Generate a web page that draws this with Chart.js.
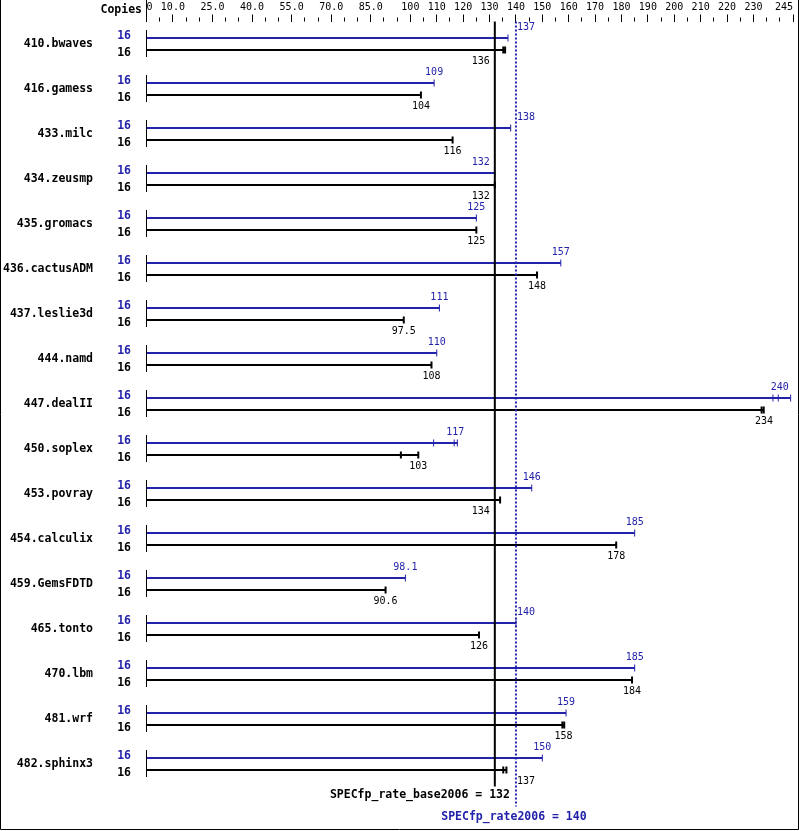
<!DOCTYPE html>
<html lang="en">
<head>
    <meta charset="UTF-8">
    <title>SPECfp_rate2006</title>
    <script src="https://cdn.jsdelivr.net/npm/chart.js"></script>
    <style>
        body { margin: 0; background: #fff; }
        canvas { display: block; }
    </style>
</head>
<body>
    <canvas id="myChart" width="799" height="831"></canvas>

    <script>
        // Benchmarks and copies
        const benchmarks = ['410.bwaves', '416.gamess', '433.milc', '434.zeusmp', '435.gromacs', '436.cactusADM',
            '437.leslie3d', '444.namd', '447.dealII', '450.soplex', '453.povray', '454.calculix',
            '459.GemsFDTD', '465.tonto', '470.lbm', '481.wrf', '482.sphinx3'];
        const peakCopies = [16, 16, 16, 16, 16, 16, 16, 16, 16, 16, 16, 16, 16, 16, 16, 16, 16];
        const baseCopies = [16, 16, 16, 16, 16, 16, 16, 16, 16, 16, 16, 16, 16, 16, 16, 16, 16];

        // Printed ratios
        const peakScores = [137, 109, 138, 132, 125, 157, 111, 110, 240, 117, 146, 185, 98.1, 140, 185, 159, 150];
        const baseScores = [136, 104, 116, 132, 125, 148, 97.5, 108, 234, 103, 134, 178, 90.6, 126, 184, 158, 137];

        // Single runs, as they show up as ticks along the bars
        const peakRuns = [[137], [109], [138], [132], [125], [157], [111], [110], [237.4, 239.4, 244.1],
            [108.8, 116.6, 117.8], [146], [185], [98.1], [140], [185], [159], [150]];
        const baseRuns = [[135.2, 135.9], [104], [116], [132], [125], [148], [97.5], [108], [233.1, 233.9],
            [96.4, 103], [134], [178], [90.6], [126], [184], [157.6, 158.3], [135.2, 136.4]];

        const peakMean = 140;
        const baseMean = 132;

        const tickLabels = [0, 10, 25, 40, 55, 70, 85, 100, 110, 120, 130, 140, 150, 160, 170, 180,
            190, 200, 210, 220, 230, 245];

        const blue = '#2222aa';
        const monoBold = 'bold 11.5px "DejaVu Sans Mono"';
        const monoSmall = '10px "DejaVu Sans Mono"';

        const fmtTick = v => v === 0 ? '0' : (v < 100 ? v.toFixed(1) : String(v));

        // tick marks every 5, labelled ones get long marks
        const tickPositions = [];
        for (let v = 0; v <= 245; v += 5) tickPositions.push(v);

        // peak bar sits 6px above the row centre, base bar 6px below (rows are 45px)
        const rowShift = 6 / 45;
        const barPoints = (runs, side) => runs.map((r, i) => ({ x: Math.max(...r), y: i + side * rowShift }));
        const markPoints = (runs, side) => runs.flatMap((r, i) => r.map(v => ({ x: v, y: i + side * rowShift })));

        const annotations = {
            id: 'annotations',
            beforeDraw(chart) {
                const ctx = chart.ctx;
                ctx.save();
                ctx.fillStyle = '#fff';
                ctx.fillRect(0, 0, chart.width, chart.height);
                ctx.restore();
            },
            afterDraw(chart) {
                const { ctx, chartArea: area, scales: { x, y } } = chart;
                ctx.save();
                ctx.strokeStyle = '#000';
                ctx.lineWidth = 1;

                // frame
                ctx.beginPath();
                ctx.moveTo(0.5, 0);
                ctx.lineTo(0.5, 829.5);
                ctx.lineTo(798.5, 829.5);
                ctx.lineTo(798.5, 0);
                ctx.stroke();

                const x0 = Math.floor(x.getPixelForValue(0)) + 0.5;
                ctx.beginPath();
                ctx.moveTo(x0, 0);
                ctx.lineTo(x0, area.top);
                ctx.stroke();

                // short ticks
                ctx.beginPath();
                tickPositions.filter(v => !tickLabels.includes(v)).forEach(v => {
                    const px = Math.floor(x.getPixelForValue(v)) + 0.5;
                    ctx.moveTo(px, area.top - 4);
                    ctx.lineTo(px, area.top);
                });
                ctx.stroke();

                ctx.font = monoBold;
                ctx.textAlign = 'right';
                ctx.textBaseline = 'middle';
                ctx.fillStyle = '#000';
                ctx.fillText('Copies', 142, 10.5);

                const basePx = x.getPixelForValue(baseMean);
                const peakPx = x.getPixelForValue(peakMean);

                // place a value label centred on its bar end, moved off the mean lines
                const labelLeft = (value, w, preferBase) => {
                    const c = x.getPixelForValue(value);
                    const l = c - w / 2 - 1.5, r = c + w / 2 + 1.5;
                    const hitBase = l < basePx + 1 && r > basePx - 1;
                    const hitPeak = l < peakPx + 1 && r > peakPx - 1;
                    if (hitBase && (preferBase || !hitPeak)) return basePx - 5 - w;
                    if (hitPeak) return peakPx + 1;
                    return c - w / 2;
                };

                benchmarks.forEach((name, i) => {
                    const cy = y.getPixelForValue(i);
                    ctx.strokeStyle = '#000';
                    ctx.beginPath();
                    ctx.moveTo(x0, cy - 14);
                    ctx.lineTo(x0, cy + 13);
                    ctx.stroke();

                    ctx.font = monoBold;
                    ctx.textAlign = 'right';
                    ctx.fillStyle = '#000';
                    ctx.fillText(name, 93, cy);
                    ctx.fillStyle = blue;
                    ctx.fillText(String(peakCopies[i]), 131, cy - 8);
                    ctx.fillStyle = '#000';
                    ctx.fillText(String(baseCopies[i]), 131, cy + 9.5);

                    ctx.font = monoSmall;
                    ctx.textAlign = 'left';
                    const pTxt = String(peakScores[i]);
                    const pw = ctx.measureText(pTxt).width;
                    ctx.fillStyle = blue;
                    ctx.fillText(pTxt, labelLeft(peakScores[i], pw, false), cy - 17);
                    const bTxt = String(baseScores[i]);
                    const bw = ctx.measureText(bTxt).width;
                    ctx.fillStyle = '#000';
                    ctx.fillText(bTxt, labelLeft(baseScores[i], bw, true), cy + 17);
                });

                // mean lines
                ctx.strokeStyle = '#000';
                ctx.lineWidth = 2;
                ctx.beginPath();
                ctx.moveTo(basePx, area.top);
                ctx.lineTo(basePx, area.bottom);
                ctx.stroke();

                ctx.strokeStyle = blue;
                ctx.setLineDash([2, 2]);
                ctx.beginPath();
                ctx.moveTo(peakPx, area.top);
                ctx.lineTo(peakPx, area.bottom + 20);
                ctx.stroke();
                ctx.setLineDash([]);

                ctx.font = monoBold;
                ctx.textBaseline = 'middle';
                ctx.textAlign = 'right';
                ctx.fillStyle = '#000';
                ctx.fillText('SPECfp_rate_base2006 = ' + baseMean, peakPx - 6, area.bottom + 9);
                ctx.textAlign = 'center';
                ctx.fillStyle = blue;
                ctx.fillText('SPECfp_rate2006 = ' + peakMean, peakPx - 2, area.bottom + 31);

                ctx.restore();
            }
        };

        const ctx = document.getElementById('myChart').getContext('2d');
        const myChart = new Chart(ctx, {
            type: 'bar',
            data: {
                datasets: [{
                    label: 'Peak',
                    data: barPoints(peakRuns, -1),
                    backgroundColor: blue,
                    borderWidth: 0,
                    grouped: false,
                    categoryPercentage: 1,
                    barPercentage: 1 / 6
                }, {
                    label: 'Base',
                    data: barPoints(baseRuns, 1),
                    backgroundColor: '#000',
                    borderWidth: 0,
                    grouped: false,
                    categoryPercentage: 1,
                    barPercentage: 1 / 6
                }, {
                    type: 'scatter',
                    label: 'Peak runs',
                    data: markPoints(peakRuns, -1),
                    pointStyle: 'line',
                    pointRotation: 90,
                    pointRadius: 3.5,
                    pointBorderColor: blue,
                    pointBorderWidth: 1
                }, {
                    type: 'scatter',
                    label: 'Base runs',
                    data: markPoints(baseRuns, 1),
                    pointStyle: 'line',
                    pointRotation: 90,
                    pointRadius: 3.5,
                    pointBorderColor: '#000',
                    pointBorderWidth: 2
                }]
            },
            options: {
                indexAxis: 'y',
                responsive: false,
                animation: false,
                devicePixelRatio: 1,
                events: [],
                layout: { padding: { left: 146.5, right: 2, top: 0.5, bottom: 44.5 } },
                plugins: { legend: { display: false }, tooltip: { enabled: false } },
                scales: {
                    x: {
                        type: 'linear',
                        position: 'top',
                        min: 0,
                        max: 245,
                        afterBuildTicks: scale => { scale.ticks = tickPositions.map(v => ({ value: v })); },
                        border: { display: false },
                        grid: {
                            drawOnChartArea: false,
                            drawTicks: true,
                            tickLength: 7,
                            tickWidth: 1,
                            tickColor: c => tickLabels.includes(c.tick.value) ? '#000' : 'rgba(0,0,0,0)'
                        },
                        ticks: {
                            autoSkip: false,
                            maxRotation: 0,
                            align: 'inner',
                            padding: 1,
                            color: '#000',
                            font: { family: 'DejaVu Sans Mono', size: 10 },
                            callback: v => tickLabels.includes(v) ? fmtTick(v) : ''
                        }
                    },
                    y: {
                        type: 'linear', display: false, offset: false,
                        min: -0.5, max: 16.5, reverse: true, grid: { offset: false }
                    }
                }
            },
            plugins: [annotations]
        });
    </script>
</body>
</html>
